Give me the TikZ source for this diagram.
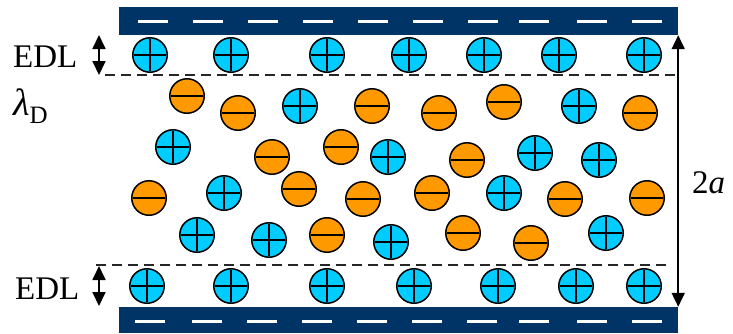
\documentclass[tikz,border=0pt]{standalone}
\usepackage{fontspec}
\setmainfont{Liberation Serif}
\newfontfamily\labelserif{Liberation Serif}
\usetikzlibrary{arrows.meta}
\definecolor{barnavy}{RGB}{0,51,102}
\definecolor{ioncyan}{RGB}{0,204,255}
\definecolor{ionorange}{RGB}{255,153,0}
\tikzset{
  ion/.style={circle, draw=black, line width=1.5pt, minimum size=34.5pt, inner sep=0pt},
  cation/.style={ion, fill=ioncyan, path picture={
      \draw[line width=1.9pt] ([xshift=-16pt]path picture bounding box.center) -- ([xshift=16pt]path picture bounding box.center);
      \draw[line width=1.9pt] ([yshift=-16pt]path picture bounding box.center) -- ([yshift=16pt]path picture bounding box.center);}},
  anion/.style={ion, fill=ionorange, path picture={
      \draw[line width=1.9pt] ([xshift=-16pt]path picture bounding box.center) -- ([xshift=16pt]path picture bounding box.center);}},
  wallbar/.style={rectangle, fill=barnavy, inner sep=0pt, minimum width=559pt},
  bardash/.style={white, line width=3pt},
  bounddash/.style={black!85, line width=1.4pt, dash pattern=on 10pt off 6pt},
  dimarrow/.style={line width=1.8pt, {Triangle[width=13pt,length=14pt]}-{Triangle[width=13pt,length=14pt]}},
  lbl/.style={inner sep=0pt, font=\labelserif\fontsize{33}{36}\selectfont},
}
\begin{document}
\begin{tikzpicture}[x=1pt,y=-1pt]
\useasboundingbox (0,0) rectangle (733,333);
% walls
\node[wallbar, minimum height=28pt] (topbar) at (398.5,21) {};
\node[wallbar, minimum height=26pt] (botbar) at (398.5,320) {};
\foreach \x in {153,208,263,318,373,428,483,534,592,647}
  \draw[bardash] (\x-15,21) -- (\x+15,21);
\foreach \x in {150,207,262,317,372,427,482,534,592,647}
  \draw[bardash] (\x-15,321) -- (\x+15,321);
% EDL boundaries
\coordinate (dl1a) at (105,75);
\coordinate (dl1b) at (678,75);
\coordinate (dl2a) at (96,265);
\coordinate (dl2b) at (670,265);
\draw[bounddash] (dl1a) -- (dl1b);
\draw[bounddash] (dl2a) -- (dl2b);
% ions in EDLs
\foreach \x [count=\i] in {150,231,327,409,484,559,644}
  \node[cation] (ct\i) at (\x,55) {};
\foreach \x [count=\i] in {147,231,327,414,498,576,644}
  \node[cation] (cb\i) at (\x,286) {};
% bulk anions
\foreach \p [count=\i] in {(187,96),(238,113),(372,106),(439,113),(504,102),(640,113),
  (272,157),(341,147),(467,160),
  (149,198),(299,189),(363,199),(432,193),(565,199),(647,198),
  (327,235),(463,233),(531,243)}
  \node[anion] (an\i) at \p {};
% bulk cations
\foreach \p [count=\i] in {(300,106),(579,106),(173,147),(388,157),(535,153),(599,160),
  (224,193),(504,193),(197,235),(269,240),(391,242),(606,233)}
  \node[cation] (cm\i) at \p {};
% dimension arrows
\draw[dimarrow] (topbar.south east) -- (botbar.north east);
\coordinate (e1a) at (99,35);
\coordinate (e1b) at (99,75);
\coordinate (e2a) at (99,266);
\coordinate (e2b) at (99,306);
\draw[dimarrow] (e1a) -- (e1b);
\draw[dimarrow] (e2a) -- (e2b);
% labels
\node[lbl, anchor=base west] (edl1) at (13,67) {EDL};
\node[lbl, anchor=base west] (edl2) at (15,299) {EDL};
\node[lbl, anchor=base west] (lam) at (13,115) {\fontsize{38}{40}\selectfont\itshape λ\raisebox{-8pt}{\fontsize{25}{25}\selectfont\upshape D}};
\node[lbl, anchor=base west] (two) at (692,193) {2\itshape a};
\end{tikzpicture}
\end{document}
